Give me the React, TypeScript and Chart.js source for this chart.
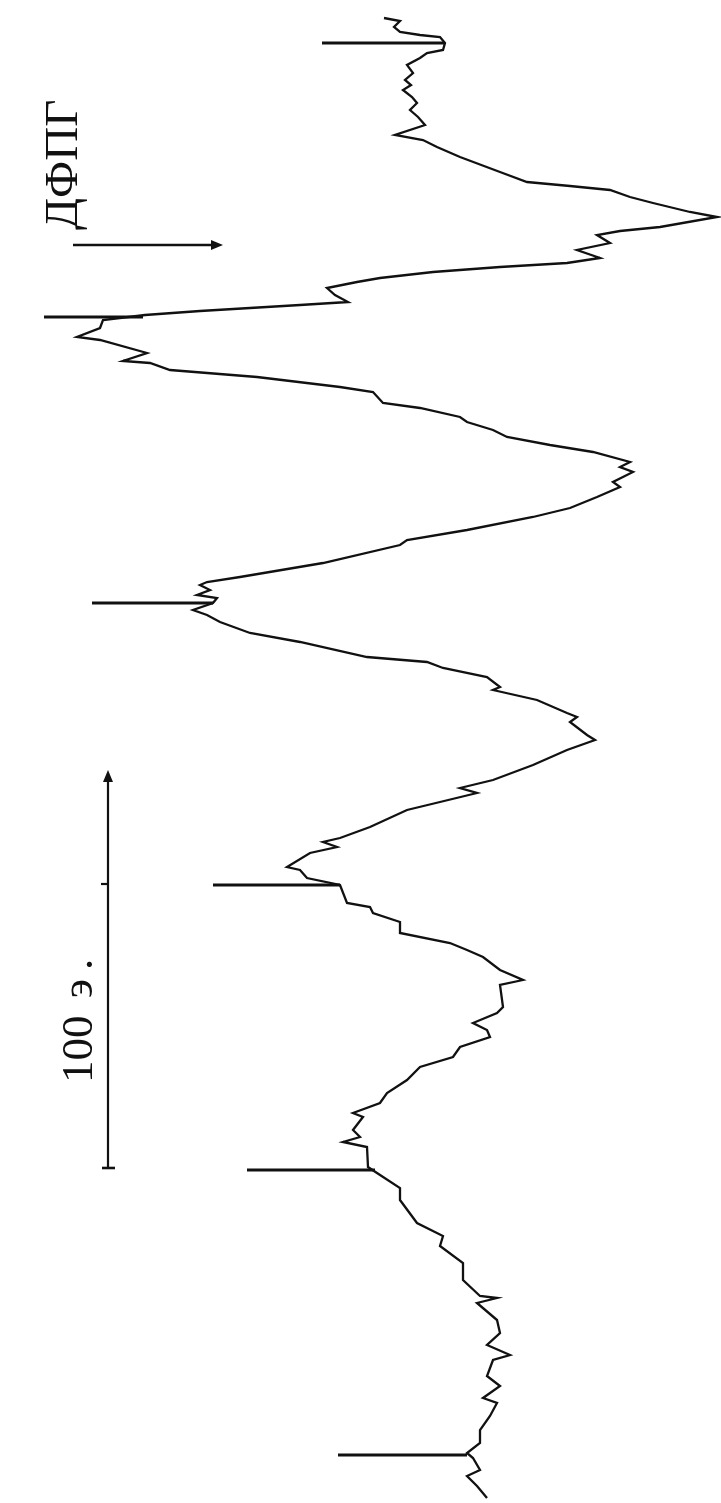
import React, { useEffect, useRef } from "react";
import { Chart, registerables } from "chart.js";

Chart.register(...registerables);

// Recorder sweep position (field axis, arbitrary sweep units) and signal amplitude (arbitrary units)
const traceField: number[] = [
  18, 21, 27, 32, 35, 37, 43, 50, 53, 58, 65, 73, 80, 85, 90, 97, 103, 110, 117, 125,
  135, 140, 147, 157, 172, 182, 186, 190, 197, 203, 212, 217, 227, 231, 235, 243, 250, 258, 263, 267,
  272, 278, 282, 288, 295, 302, 305, 308, 311, 315, 320, 328, 337, 340, 353, 361, 363, 370, 377, 387,
  392, 403, 408, 417, 422, 430, 437, 445, 452, 462, 467, 472, 482, 487, 497, 508, 517, 530, 540, 545,
  563, 577, 582, 585, 590, 595, 598, 603, 610, 615, 622, 633, 642, 657, 662, 668, 677, 687, 690, 700,
  713, 717, 722, 735, 740, 750, 765, 780, 788, 793, 802, 810, 827, 838, 842, 847, 853, 867, 870, 878,
  885, 903, 907, 913, 922, 933, 943, 950, 957, 970, 980, 985, 1007, 1013, 1023, 1030, 1037, 1047, 1057, 1067,
  1080, 1093, 1103, 1113, 1117, 1130, 1137, 1142, 1147, 1167, 1173, 1188, 1200, 1223, 1236, 1246, 1263, 1280, 1296, 1298,
  1303, 1320, 1333, 1345, 1355, 1360, 1376, 1386, 1398, 1403, 1416, 1430, 1443, 1453, 1458, 1470, 1476, 1486, 1498,
];
const traceSignal: number[] = [
  384, 400, 394, 400, 420, 440, 445, 443, 427, 420, 407, 413, 405, 411, 403, 412, 417, 410, 418, 425,
  395, 423, 437, 460, 500, 527, 570, 610, 630, 653, 690, 717, 660, 620, 597, 610, 577, 600, 567, 500,
  433, 380, 357, 327, 335, 348, 300, 250, 200, 145, 103, 100, 77, 100, 147, 123, 150, 170, 257, 340,
  373, 383, 420, 460, 467, 493, 507, 550, 593, 630, 620, 633, 613, 620, 597, 570, 533, 467, 407, 400,
  323, 240, 207, 200, 210, 197, 217, 213, 193, 207, 220, 250, 300, 367, 427, 443, 487, 500, 493, 537,
  567, 577, 570, 587, 595, 567, 533, 493, 460, 477, 440, 407, 370, 340, 323, 337, 310, 287, 300, 307,
  340, 347, 370, 373, 400, 400, 450, 467, 483, 500, 523, 500, 503, 497, 473, 487, 490, 460, 453, 420,
  407, 387, 380, 353, 363, 353, 360, 343, 367, 368, 377, 400, 400, 417, 443, 440, 463, 463, 480, 497,
  477, 497, 500, 487, 510, 493, 487, 500, 483, 497, 490, 480, 480, 467, 473, 480, 467, 477, 487,
];

// DPPH marker pips: field position, start and end of the pip (signal units)
const markerField: number[] = [43, 317, 603, 885, 1170, 1455];
const markerStart: number[] = [322, 44, 92, 213, 247, 338];
const markerEnd: number[] = [445, 143, 213, 340, 375, 467];

// Labels
const dpphLabel = "ДФПГ";
const scaleLabel = "100 э";

// Axis ranges
const SIGNAL_MIN = 0;
const SIGNAL_MAX = 721;
const FIELD_MIN = 0;
const FIELD_MAX = 1503;

// Annotation geometry in chart units
const DPPH_ARROW = { field: 245, from: 73, to: 223 };
const SCALE_BAR = { signal: 108, top: 770, mid: 884, bottom: 1168 };

const annotationPlugin = {
  id: "epr-annotations",
  afterDatasetsDraw(chart: any) {
    const ctx = chart.ctx as CanvasRenderingContext2D;
    const xs = chart.scales.x;
    const ys = chart.scales.y;
    const px = (v: number) => xs.getPixelForValue(v);
    const py = (v: number) => ys.getPixelForValue(v);
    ctx.save();
    ctx.strokeStyle = "#111";
    ctx.fillStyle = "#111";
    ctx.lineWidth = 2.4;
    ctx.lineCap = "butt";

    // DPPH arrow (pointing right)
    const ay = py(DPPH_ARROW.field);
    const ax0 = px(DPPH_ARROW.from);
    const ax1 = px(DPPH_ARROW.to);
    ctx.beginPath();
    ctx.moveTo(ax0, ay);
    ctx.lineTo(ax1 - 8, ay);
    ctx.stroke();
    ctx.beginPath();
    ctx.moveTo(ax1, ay);
    ctx.lineTo(ax1 - 12, ay - 5);
    ctx.lineTo(ax1 - 12, ay + 5);
    ctx.closePath();
    ctx.fill();

    // Scale bar (vertical, arrow up)
    const sx = px(SCALE_BAR.signal);
    const st = py(SCALE_BAR.top);
    const sm = py(SCALE_BAR.mid);
    const sb = py(SCALE_BAR.bottom);
    ctx.lineWidth = 2.2;
    ctx.beginPath();
    ctx.moveTo(sx, sb);
    ctx.lineTo(sx, st + 8);
    ctx.stroke();
    ctx.beginPath();
    ctx.moveTo(sx, st);
    ctx.lineTo(sx - 5, st + 12);
    ctx.lineTo(sx + 5, st + 12);
    ctx.closePath();
    ctx.fill();
    // mid tick
    ctx.beginPath();
    ctx.moveTo(sx - 7, sm);
    ctx.lineTo(sx, sm);
    ctx.stroke();
    // bottom tick
    ctx.lineWidth = 2.6;
    ctx.beginPath();
    ctx.moveTo(sx - 6, sb);
    ctx.lineTo(sx + 7, sb);
    ctx.stroke();
    ctx.restore();
  },
};

export default function App() {
  const canvasRef = useRef<HTMLCanvasElement | null>(null);

  useEffect(() => {
    if (!canvasRef.current) return;
    const traceData = traceField.map((f, i) => ({ x: traceSignal[i], y: f }));
    const markerSets = markerField.map((f, i) => ({
      label: "marker" + i,
      data: [
        { x: markerStart[i], y: f },
        { x: markerEnd[i], y: f },
      ],
      showLine: true,
      borderColor: "#111",
      borderWidth: 2.8,
      pointRadius: 0,
      tension: 0,
    }));
    const chart = new Chart(canvasRef.current, {
      type: "scatter",
      data: {
        datasets: [
          {
            label: "spectrum",
            data: traceData,
            showLine: true,
            borderColor: "#111",
            borderWidth: 2.3,
            pointRadius: 0,
            tension: 0,
          },
          ...markerSets,
        ],
      },
      options: {
        responsive: false,
        animation: false,
        devicePixelRatio: 1,
        layout: { padding: 0 },
        plugins: {
          legend: { display: false },
          tooltip: { enabled: false },
          title: { display: false },
        },
        scales: {
          x: { type: "linear", min: SIGNAL_MIN, max: SIGNAL_MAX, display: false },
          y: { type: "linear", min: FIELD_MIN, max: FIELD_MAX, reverse: true, display: false },
        },
      },
      plugins: [annotationPlugin],
    });
    return () => chart.destroy();
  }, []);

  const textBase: React.CSSProperties = {
    position: "absolute",
    fontFamily: '"Liberation Serif", "DejaVu Serif", serif',
    color: "#111",
    whiteSpace: "nowrap",
    transformOrigin: "0 0",
    transform: "rotate(-90deg)",
    margin: 0,
  };

  return (
    <div
      style={{
        position: "absolute",
        left: 0,
        top: 0,
        width: 721,
        height: 1503,
        overflow: "hidden",
        background: "#fff",
      }}
    >
      <canvas ref={canvasRef} width={721} height={1503} style={{ display: "block" }} />
      <div style={{ ...textBase, left: 38, top: 230, fontSize: 47, lineHeight: "47px" }}>{dpphLabel}</div>
      <div style={{ ...textBase, left: 55, top: 1083, fontSize: 45, lineHeight: "45px", wordSpacing: 6 }}>
        {scaleLabel}
        <span style={{ marginLeft: 9 }}>.</span>
      </div>
    </div>
  );
}
